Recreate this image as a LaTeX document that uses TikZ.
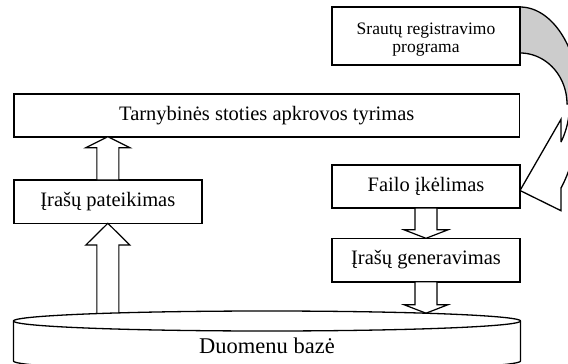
\documentclass[tikz,border=0pt]{standalone}
\usepackage{fontspec}
\setmainfont{Liberation Serif}
\usetikzlibrary{calc,backgrounds}

\tikzset{
  box/.style={draw, line width=1.6pt, fill=white, inner sep=0pt, outer sep=0pt,
    font=\fontsize{20.5}{24}\selectfont},
  smallbox/.style={box, font=\fontsize{17.5}{19.5}\selectfont},
  arrowbody/.style={draw, line width=1.2pt, fill=white, line join=miter},
  outline/.style={draw, line width=1.3pt, line join=miter},
}

% block arrow from #1 (tail) to #2 (tip), #3 = head length
\newcommand{\blockarrow}[3]{%
  \path[arrowbody] let \p1=(#1), \p2=(#2), \p3=($(#2)!#3!(#1)$) in
    (\x1-11pt,\y1) -- (\x1-11pt,\y3) -- (\x1-22pt,\y3) -- (\x1,\y2)
    -- (\x1+22pt,\y3) -- (\x1+11pt,\y3) -- (\x1+11pt,\y1) -- cycle;
}

\begin{document}
\begin{tikzpicture}[x=1pt, y=-1pt]
\useasboundingbox (0,0) rectangle (568,364);
\clip (0,0) rectangle (568,364);

% boxes
\node[smallbox, minimum width=188, minimum height=58] (sr) at (426,36)
  {\raisebox{-3.5pt}[\height][\depth]{\begin{tabular}{@{}c@{}}Srautų registravimo\\[-1.2pt]programa\end{tabular}}};
\node[box, minimum width=505.5, minimum height=42.7] (tarn) at (266.75,115.35)
  {Tarnybinės stoties apkrovos tyrimas};
\node[box, minimum width=187.7, minimum height=43.3] (pat) at (107.85,201.65)
  {Įrašų pateikimas};
\node[box, minimum width=188, minimum height=43] (fail) at (426,186.5)
  {Failo įkėlimas};
\node[box, minimum width=188, minimum height=43.4] (gen) at (426,260)
  {Įrašų generavimas};

% curved arrow from the program box to the upload box, behind the boxes
\begin{scope}[on background layer]
  % shaded back band
  \path[outline, fill=black!20] (sr.north east)
    -- plot[domain=0:90, samples=50] ({520+60*sin(\x)},{104-97*cos(\x)})
    -- plot[domain=90:0, samples=50] ({520+47*sin(\x)},{104-51*cos(\x)})
    -- cycle;
  % front band with the head
  \coordinate (tip) at ($(fail.east)+(0,4)$);
  \path[outline, fill=white] (561,142) -- (561,119.3) -- (tip) -- (561,210.7) -- (561,188)
    -- plot[domain=136.4:90, samples=50] ({520+59.5*sin(\x)},{104-116*cos(\x)})
    -- plot[domain=90:124.3, samples=50] ({520+49.6*sin(\x)},{104-67.5*cos(\x)})
    -- cycle;
\end{scope}

% connection points on the database
\path (pat.south) ++(0,101.7) coordinate (dbL);
\path (gen.south) ++(0,31.5) coordinate (dbR);

% block arrows
\blockarrow{pat.north}{pat.north |- tarn.south}{11pt}
\blockarrow{dbL}{pat.south}{21.7pt}
\blockarrow{fail.south}{fail.south |- gen.north}{8.5pt}
\blockarrow{gen.south}{dbR}{8.5pt}

% database cylinder
\path[outline, fill=white] (13.5,321) -- (13.5,361)
  -- plot[domain=0:180, samples=80] ({267-253.5*cos(\x)},{361+10*sin(\x)})
  -- (520.5,321)
  -- plot[domain=0:180, samples=80] ({267+253.5*cos(\x)},{321-10*sin(\x)})
  -- cycle;
\draw[line width=1.3pt] plot[domain=0:180, samples=80] ({267-253.5*cos(\x)},{321+10*sin(\x)});
\node[anchor=base, font=\fontsize{22.5}{26}\selectfont, inner sep=0pt] (db) at (267,353)
  {Duomenu bazė};
\end{tikzpicture}
\end{document}
